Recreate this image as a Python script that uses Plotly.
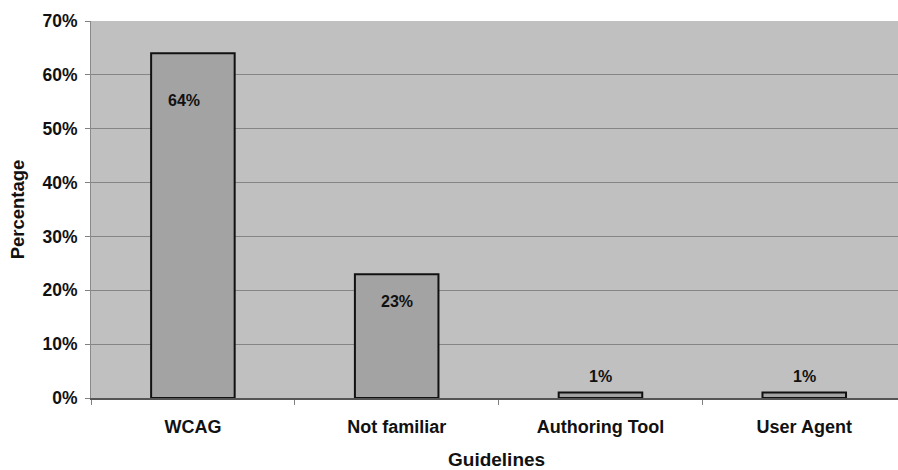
import plotly.graph_objects as go

# Familiarity with accessibility guidelines
categories = ["WCAG", "Not familiar", "Authoring Tool", "User Agent"]
percentages = [64, 23, 1, 1]
value_labels = ["64%", "23%", "1%", "1%"]
y_ticks = [0, 10, 20, 30, 40, 50, 60, 70]
y_tick_labels = ["0%", "10%", "20%", "30%", "40%", "50%", "60%", "70%"]
x_title = "Guidelines"

# offsets (px) of each value label relative to its bar top centre
label_dy = [-47, -27, 16, 16]
label_dx = [-9, 0, 0, 0]

FONT = "Liberation Sans, Arial, sans-serif"

fig = go.Figure(
    go.Bar(
        x=categories,
        y=percentages,
        marker=dict(color="#a3a3a3", line=dict(color="#111111", width=2)),
        width=0.41,
        hoverinfo="skip",
    )
)

for cat, val, lab, dx, dy in zip(categories, percentages, value_labels, label_dx, label_dy):
    fig.add_annotation(
        x=cat, y=val, text=lab, showarrow=False, xshift=dx, yshift=dy,
        font=dict(family=FONT, size=16, color="#111111", weight="bold"),
    )

# x-axis title, placed below the category labels
fig.add_annotation(
    xref="paper", yref="paper", x=0.503, y=-0.162,
    xanchor="center", yanchor="middle", showarrow=False,
    text=x_title,
    font=dict(family=FONT, size=19, color="#111111", weight="bold"),
)

fig.update_layout(
    width=898,
    height=470,
    margin=dict(l=91, r=0, t=21, b=72),
    paper_bgcolor="white",
    plot_bgcolor="#c0c0c0",
    showlegend=False,
    font=dict(family=FONT, color="#111111"),
)

fig.update_xaxes(
    range=[-0.5, 3.46],
    automargin=False,
    showgrid=False,
    showline=True,
    linecolor="#555555",
    linewidth=1.5,
    ticks="outside",
    tickson="boundaries",
    ticklen=5,
    tickcolor="#808080",
    tickfont=dict(family=FONT, size=18, color="#111111", weight="bold"),
    ticklabelstandoff=12,
)

fig.update_yaxes(
    range=[0, 70],
    automargin=False,
    tickvals=y_ticks,
    ticktext=y_tick_labels,
    showgrid=True,
    gridcolor="#858585",
    gridwidth=1,
    showline=True,
    linecolor="#8a8a8a",
    linewidth=1,
    ticks="outside",
    ticklen=5,
    tickcolor="#808080",
    tickfont=dict(family=FONT, size=17.5, color="#111111", weight="bold"),
    ticklabelstandoff=4,
    zeroline=False,
    title=dict(
        text="Percentage",
        font=dict(family=FONT, size=18.5, color="#111111", weight="bold"),
        standoff=12,
    ),
)

fig.write_html("out.html")
